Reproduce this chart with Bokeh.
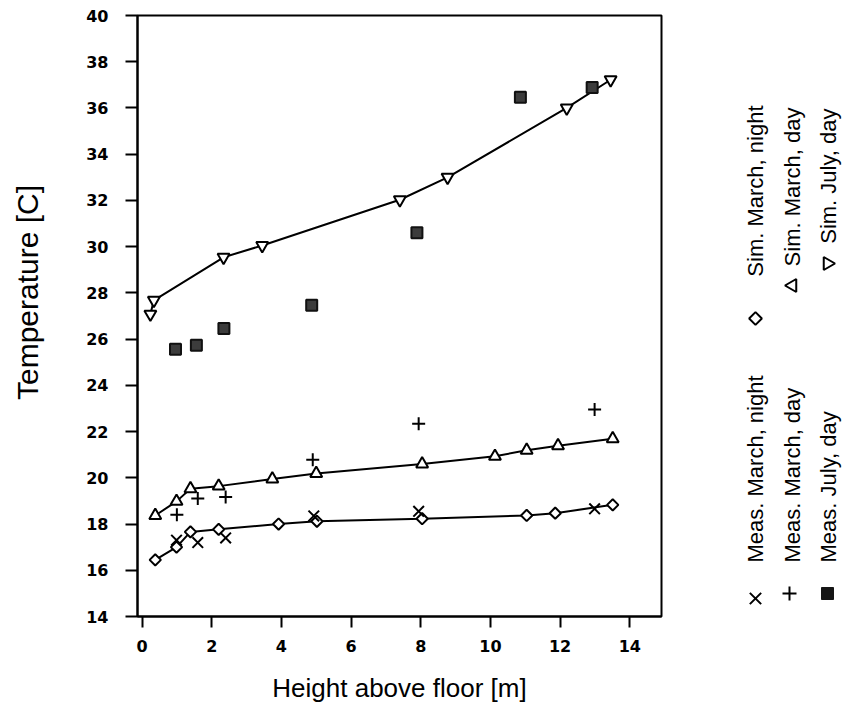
import math
from bokeh.plotting import figure
from bokeh.models import Range1d, FixedTicker
from bokeh.layouts import row
from bokeh.embed import file_html
from bokeh.resources import INLINE
from bokeh.core.properties import value

# ---------------- data ----------------
x_ticks = [0, 2, 4, 6, 8, 10, 12, 14]
y_ticks = [14, 16, 18, 20, 22, 24, 26, 28, 30, 32, 34, 36, 38, 40]

sim_night_x = [0.38, 0.99, 1.39, 2.2, 3.92, 5.02, 8.04, 11.04, 11.86, 13.51]
sim_night_y = [16.45, 17.0, 17.66, 17.77, 18.0, 18.12, 18.23, 18.37, 18.47, 18.83]

sim_mday_x = [0.38, 0.99, 1.39, 2.2, 3.74, 5.0, 8.04, 10.13, 11.04, 11.94, 13.51]
sim_mday_y = [18.37, 18.98, 19.53, 19.64, 19.95, 20.19, 20.6, 20.93, 21.19, 21.39, 21.69]

sim_july_x = [0.24, 0.34, 2.34, 3.45, 7.40, 8.77, 12.19, 13.45]
sim_july_y = [27.08, 27.68, 29.54, 30.05, 32.03, 33.0, 36.0, 37.22]

meas_night_x = [0.99, 1.6, 2.4, 4.93, 7.94, 12.99]
meas_night_y = [17.3, 17.2, 17.4, 18.35, 18.55, 18.66]

meas_mday_x = [1.0, 1.6, 2.4, 4.9, 7.94, 12.99]
meas_mday_y = [18.4, 19.1, 19.17, 20.78, 22.34, 22.95]

meas_july_x = [0.96, 1.56, 2.35, 4.87, 7.89, 10.86, 12.92]
meas_july_y = [25.56, 25.74, 26.46, 27.47, 30.6, 36.46, 36.89]

legend_labels = ["Meas. March, night", "Meas. March, day", "Meas. July, day",
                 "Sim. March, night", "Sim. March, day", "Sim. July, day"]

x_title = "Height above floor [m]"
y_title = "Temperature [C]"

FONT = "Liberation Sans"
H = 708
F_LEFT, F_RIGHT, F_TOP, F_BOTTOM = 137, 661, 15, 616   # frame edges in page pixels
YT_W = 60            # strip holding the y title
MAIN_W = 730 - YT_W  # main plot canvas
LEG_W = 116          # legend strip

common = dict(output_backend="svg", toolbar_location=None, height=H,
              min_border_top=F_TOP, min_border_bottom=H - F_BOTTOM)


def strip(x0, w):
    f = figure(width=w, x_range=Range1d(x0, x0 + w),
               y_range=Range1d(H - F_BOTTOM, H - F_TOP),
               x_axis_location=None, y_axis_location=None,
               min_border_left=0, min_border_right=0, **common)
    f.grid.visible = False
    f.outline_line_color = None
    f.background_fill_color = "white"
    f.border_fill_color = "white"
    return f


def ly(y):
    return H - y


# ---------------- y title strip ----------------
yt = strip(0, YT_W)
yt.text(x=[27], y=[ly(292)], text=[y_title], angle=math.pi / 2,
        text_align="center", text_baseline="alphabetic",
        text_font=value(FONT), text_font_size="30px", text_color="black")

# ---------------- main plot ----------------
p = figure(width=MAIN_W, x_range=Range1d(-0.13, 14.91), y_range=Range1d(14, 40),
           min_border_left=F_LEFT - YT_W, min_border_right=730 - F_RIGHT, **common)
p.grid.visible = False
p.outline_line_color = "black"
p.outline_line_width = 2
p.background_fill_color = "white"
p.border_fill_color = "white"

p.xaxis.ticker = FixedTicker(ticks=x_ticks)
p.yaxis.ticker = FixedTicker(ticks=y_ticks)
for ax in (p.xaxis[0], p.yaxis[0]):
    ax.axis_line_width = 2
    ax.axis_line_color = "black"
    ax.major_tick_line_width = 2
    ax.major_tick_line_color = "black"
    ax.major_tick_in = 0
    ax.minor_tick_line_color = None
    ax.major_label_text_font = "DejaVu Sans"
    ax.major_label_text_font_style = "bold"
    ax.major_label_text_font_size = "16px"
    ax.major_label_text_color = "black"
p.xaxis.major_tick_out = 11
p.yaxis.major_tick_out = 12
p.xaxis.major_label_standoff = 12
p.yaxis.major_label_standoff = 17

p.xaxis.axis_label = x_title
p.xaxis.axis_label_text_font = FONT
p.xaxis.axis_label_text_font_style = "normal"
p.xaxis.axis_label_text_font_size = "26px"
p.xaxis.axis_label_text_color = "black"
p.xaxis.axis_label_standoff = 18

LW = 2
# simulated series: lines + open markers
p.line(sim_night_x, sim_night_y, line_color="black", line_width=LW)
p.scatter(sim_night_x, sim_night_y, marker="square", angle=math.pi / 4, size=8,
          fill_color="white", line_color="black", line_width=LW)

p.line(sim_mday_x, sim_mday_y, line_color="black", line_width=LW)
p.scatter(sim_mday_x, sim_mday_y, marker="triangle", size=12,
          fill_color="white", line_color="black", line_width=LW)

p.line(sim_july_x, sim_july_y, line_color="black", line_width=LW)
p.scatter(sim_july_x, sim_july_y, marker="inverted_triangle", size=12,
          fill_color="white", line_color="black", line_width=LW)

# measured series: markers only
p.scatter(meas_night_x, meas_night_y, marker="x", size=15,
          line_color="black", line_width=LW)
p.scatter(meas_mday_x, meas_mday_y, marker="cross", size=13,
          line_color="black", line_width=LW)
p.scatter(meas_july_x, meas_july_y, marker="square", size=11,
          fill_color="#3c3c3c", line_color="#111111", line_width=2)

# ---------------- rotated legend strip (page-pixel coordinates) ----------------
lg = strip(730, LEG_W)
cols = [755, 792, 828]
lg.scatter([755], [ly(598)], marker="x", size=16, line_color="black", line_width=LW)
lg.scatter([789], [ly(593)], marker="cross", size=14, line_color="black", line_width=LW)
lg.scatter([827], [ly(593)], marker="square", size=12, fill_color="#151515",
           line_color="#151515")
lg.text(x=cols, y=[ly(562)] * 3, text=legend_labels[:3],
        angle=math.pi / 2, text_align="left", text_baseline="middle",
        text_font=value(FONT), text_font_size="22px", text_color="black")

lg.scatter([755], [ly(318)], marker="square", angle=math.pi / 4, size=9,
           fill_color="white", line_color="black", line_width=LW)
lg.scatter([792], [ly(285)], marker="triangle", angle=math.pi / 2, size=13,
           fill_color="white", line_color="black", line_width=LW)
lg.scatter([827], [ly(263)], marker="inverted_triangle", angle=math.pi / 2, size=13,
           fill_color="white", line_color="black", line_width=LW)
lg.text(x=cols, y=[ly(105), ly(107), ly(108)], text=legend_labels[3:],
        angle=math.pi / 2, text_align="right", text_baseline="middle",
        text_font=value(FONT), text_font_size="22px", text_color="black")

layout = row(yt, p, lg)
open("out.html", "w").write(file_html(layout, INLINE))
